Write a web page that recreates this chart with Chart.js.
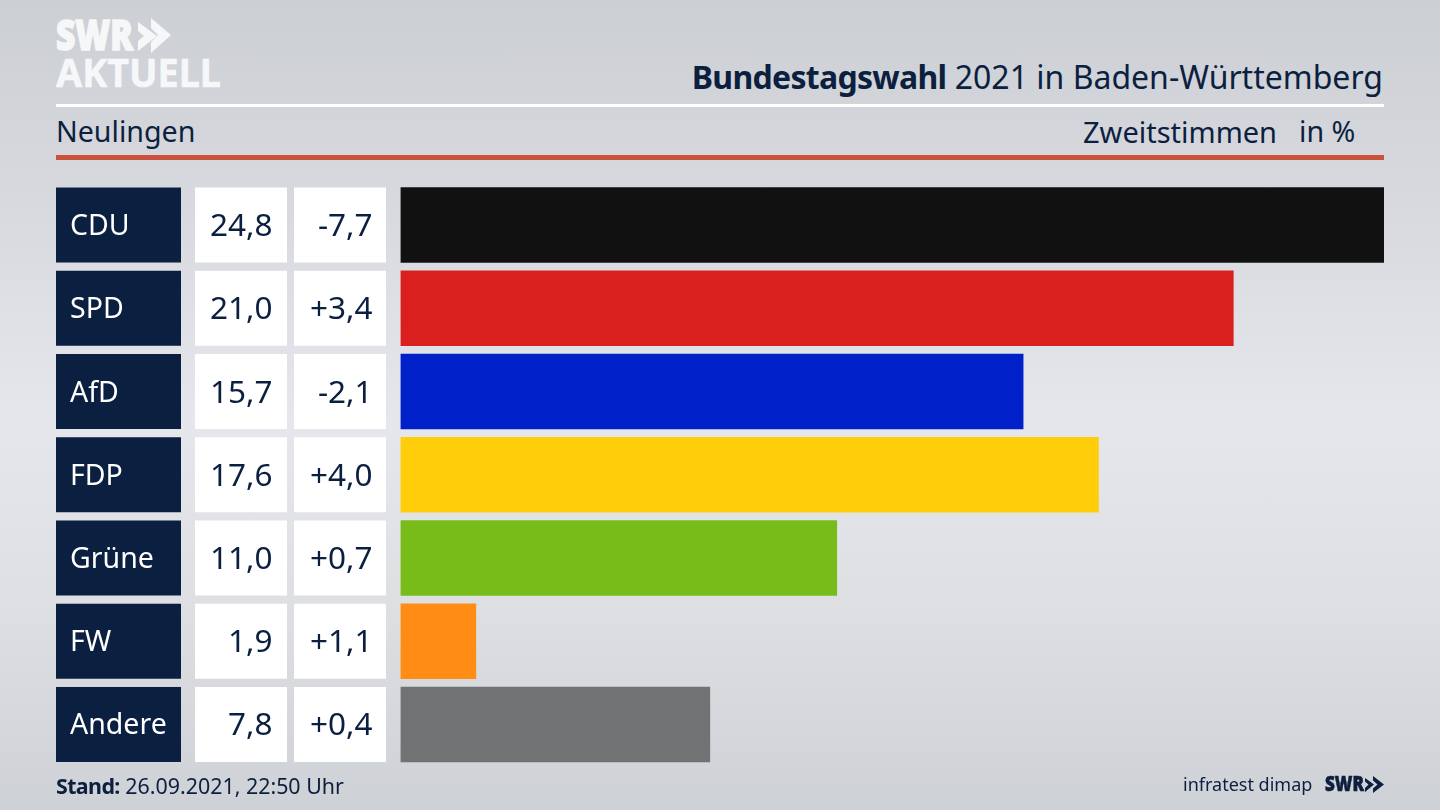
<!DOCTYPE html>
<html lang="de">
<head>
<meta charset="utf-8">
<title>Bundestagswahl 2021 in Baden-Württemberg</title>
<script src="https://cdn.jsdelivr.net/npm/chart.js@4"></script>
<style>
  html, body { margin: 0; padding: 0; }
  body {
    width: 1440px; height: 810px; overflow: hidden; position: relative;
    background: linear-gradient(180deg, #cccfd4 0%, #d7d9de 25%, #e6e7ec 52%, #dedfe3 75%, #ced1d6 100%);
    font-family: "Noto Sans", sans-serif; color: #0c1f3f;
  }
  canvas { position: absolute; left: 0; top: 0; }
  .txt { position: absolute; white-space: nowrap; line-height: 1; }
  .rule { position: absolute; left: 56px; width: 1328px; }
  #logo, #logoSmall { position: absolute; }
</style>
</head>
<body>
<svg id="logo" style="left:0;top:0" width="240" height="100" fill="#f6f7f8" stroke="#f6f7f8" font-family="Noto Sans" font-weight="900">
  <text x="56" y="50" font-size="43" stroke-width="1.6" textLength="77" lengthAdjust="spacingAndGlyphs">SWR</text>
  <polygon stroke="none" points="138,22 157,36 138,51 138,41 144,36 138,31"/>
  <polygon stroke="none" points="151,18 171,35 151,53 151,42 158,35 151,28"/>
  <text x="56" y="87" font-size="40" font-weight="700" stroke-width="0.6" textLength="165" lengthAdjust="spacingAndGlyphs">AKTUELL</text>
</svg>

<div class="txt" style="right:57px;top:61px;font-size:32px"><b style="letter-spacing:-.7px">Bundestagswahl</b> 2021 in Baden-Württemberg</div>
<div class="rule" style="top:104px;height:3px;background:#fff"></div>
<div class="txt" style="left:56px;top:117px;font-size:28.6px">Neulingen</div>
<div class="txt" style="left:1083px;top:117px;font-size:29px">Zweitstimmen</div>
<div class="txt" style="left:1299px;top:117px;font-size:28.6px">in %</div>
<div class="rule" style="top:155px;height:5px;background:#c9523f"></div>

<canvas id="wahlChart" width="1440" height="810"></canvas>

<div class="txt" style="left:56px;top:775px;font-size:21.4px"><b style="letter-spacing:-.6px">Stand:</b> 26.09.2021, 22:50 Uhr</div>
<div class="txt" style="left:1183px;top:775px;font-size:18px">infratest dimap</div>
<svg id="logoSmall" style="left:1320px;top:770px" width="70" height="30" fill="#0c1f3f" stroke="#0c1f3f" font-family="Noto Sans" font-weight="900">
  <text x="5" y="21" font-size="21" stroke-width="0.6" textLength="39" lengthAdjust="spacingAndGlyphs">SWR</text>
  <polygon stroke="none" points="45,8 54,14.5 45,22 45,18 48.5,14.5 45,11.5"/>
  <polygon stroke="none" points="53,6 64,14.5 53,23 53,18.5 57.5,14.5 53,10.5"/>
</svg>

<script>
const parties = ['CDU', 'SPD', 'AfD', 'FDP', 'Grüne', 'FW', 'Andere'];
const results = [24.8, 21.0, 15.7, 17.6, 11.0, 1.9, 7.8];
const changes = ['-7,7', '+3,4', '-2,1', '+4,0', '+0,7', '+1,1', '+0,4'];
const barColors = ['#111111', '#da201f', '#0021c9', '#ffcd0a', '#78bc1a', '#ff8c14', '#717273'];

const NAVY = '#0b1f40';

function deNum(v) {
    return v.toFixed(1).replace('.', ',');
}

// party box, result and change cells left of the bars, lined up with the y scale
const tablePlugin = {
    id: 'table',
    afterDraw(chart) {
        const ctx = chart.ctx;
        const y = chart.scales.y;
        const h = 75;
        ctx.save();
        ctx.textBaseline = 'alphabetic';
        parties.forEach((name, i) => {
            const mid = y.getPixelForValue(i);
            const top = mid - h / 2;

            ctx.fillStyle = NAVY;
            ctx.fillRect(56, top, 125, h);
            ctx.fillStyle = '#ffffff';
            ctx.fillRect(195, top, 92, h);
            ctx.fillRect(294, top, 92, h);

            ctx.fillStyle = '#ffffff';
            ctx.textAlign = 'left';
            ctx.font = '28.5px "Noto Sans"';
            ctx.fillText(name, 70, mid + 10);

            ctx.fillStyle = NAVY;
            ctx.textAlign = 'right';
            ctx.font = '31.5px "Noto Sans"';
            ctx.fillText(deNum(results[i]), 272.5, mid + 11);
            ctx.fillText(changes[i], 372.5, mid + 11);
        });
        ctx.restore();
    }
};

new Chart(document.getElementById('wahlChart'), {
    type: 'bar',
    data: {
        labels: parties,
        datasets: [{
            data: results,
            backgroundColor: barColors,
            barThickness: 75,
            borderWidth: 0
        }]
    },
    options: {
        indexAxis: 'y',
        responsive: false,
        animation: false,
        layout: { padding: { left: 400.5, right: 56, top: 183.4, bottom: 43.9 } },
        plugins: { legend: { display: false }, tooltip: { enabled: false } },
        scales: {
            x: { min: 0, max: 24.8, display: false },
            y: { display: false }
        }
    },
    plugins: [tablePlugin]
});
</script>
</body>
</html>
